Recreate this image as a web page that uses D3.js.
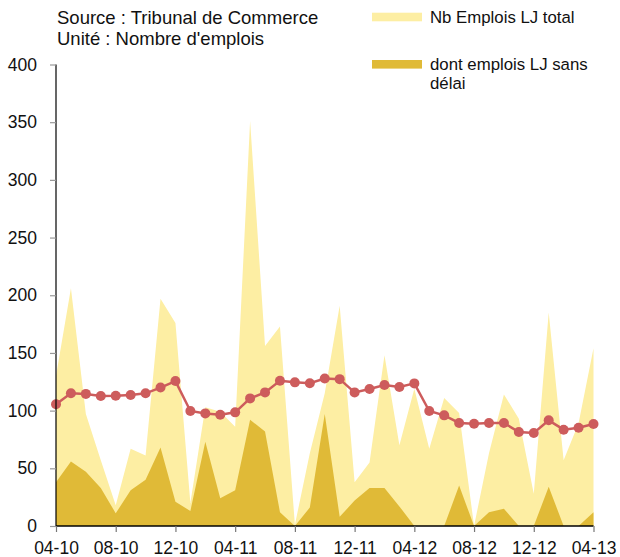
<!DOCTYPE html>
<html>
<head>
<meta charset="utf-8">
<script src="https://cdn.jsdelivr.net/npm/d3@7"></script>
<style>
  html, body { margin: 0; padding: 0; background: #fff; }
  svg { display: block; font-family: "Liberation Sans", Arial, sans-serif; }
</style>
</head>
<body>
<svg id="chart" width="620" height="557"></svg>
<script>
// ---- data ----
const months = ["04-10","05-10","06-10","07-10","08-10","09-10","10-10","11-10","12-10",
  "01-11","02-11","03-11","04-11","05-11","06-11","07-11","08-11","09-11","10-11","11-11","12-11",
  "01-12","02-12","03-12","04-12","05-12","06-12","07-12","08-12","09-12","10-12","11-12","12-12",
  "01-13","02-13","03-13","04-13"];
const totalJobs = [130,206,97,57,18,67,61,197,176,20,103,99,86,351,156,173,1,63,115,191,38,55,148,70,119,67,111,98,0,63,114,93,28,185,57,89,154];
const noDelayJobs = [38,56,47,33,11,31,40,68,21,13,73,24,31,92,82,12,0,16,97,8,22,33,33,17,0,0,0,35,0,12,15,0,0,34,0,0,12];
const avgJobs = [105.5,115,114.5,112.6,112.9,113.5,115,120,125.6,99.7,97.6,96.5,98.5,110.6,115.8,125.9,124.5,123.7,127.8,127.3,115.8,118.7,122.2,120.5,123.6,99.7,95.9,89.3,88.7,89.3,89.3,81.5,80.6,91.6,83.5,85.2,88.4];
const xTickLabels = ["04-10","08-10","12-10","04-11","08-11","12-11","04-12","08-12","12-12","04-13"];
const yTicks = [0,50,100,150,200,250,300,350,400];
const titleLines = ["Source : Tribunal de Commerce", "Unité : Nombre d'emplois"];
const legendItems = [
  {label: ["Nb Emplois LJ total"], color: "#FDEEA3"},
  {label: ["dont emplois LJ sans", "délai"], color: "#E0BA37"}
];

// ---- chart ----
const svg = d3.select("#chart");
const x = d3.scaleLinear().domain([0, months.length - 1]).range([56, 593.5]);
const y = d3.scaleLinear().domain([0, 400]).range([526, 64.5]);

const idx = months.map((m, i) => i);

const areaTotal = d3.area().x(i => x(i)).y0(y(0)).y1(i => y(totalJobs[i]));
const areaDark = d3.area().x(i => x(i)).y0(y(0)).y1(i => y(noDelayJobs[i]));

svg.append("path").attr("d", areaTotal(idx)).attr("fill", legendItems[0].color);
svg.append("path").attr("d", areaDark(idx)).attr("fill", legendItems[1].color);

const line = d3.line().x(i => x(i)).y(i => y(avgJobs[i]));
svg.append("path").attr("d", line(idx)).attr("fill", "none")
  .attr("stroke", "#CD5C5C").attr("stroke-width", 2.5);
svg.append("g").selectAll("circle").data(idx).join("circle")
  .attr("cx", i => x(i)).attr("cy", i => y(avgJobs[i])).attr("r", 5)
  .attr("fill", "#CD5C5C");

// y axis
const yAxis = d3.axisLeft(y).tickValues(yTicks).tickSize(6).tickPadding(13)
  .tickFormat(d3.format("d"));
const gy = svg.append("g").attr("transform", "translate(56,0)").call(yAxis);
gy.select(".domain").attr("stroke", "#000").attr("stroke-width", 1.2)
  .attr("d", `M0,${y(400)}V${y(0)}`);
gy.selectAll(".tick line").attr("stroke", "#999").attr("stroke-width", 1.2);
gy.selectAll(".tick text").attr("font-size", 17.5).attr("fill", "#111")
  .attr("font-family", "Liberation Sans, Arial, sans-serif");

// x axis
const xTickIdx = xTickLabels.map(l => months.indexOf(l));
const xAxis = d3.axisBottom(x).tickValues(xTickIdx).tickSize(6).tickPadding(10)
  .tickFormat(i => months[i]);
const gx = svg.append("g").attr("transform", `translate(0,${y(0)})`).call(xAxis);
gx.select(".domain").attr("stroke", "#000").attr("stroke-width", 1.5)
  .attr("d", `M${x(0)},0H${x(months.length - 1)}`);
gx.selectAll(".tick line").attr("stroke", "#777").attr("stroke-width", 1.2);
gx.selectAll(".tick text").attr("font-size", 17.5).attr("fill", "#111")
  .attr("font-family", "Liberation Sans, Arial, sans-serif");

// title
svg.append("g").selectAll("text").data(titleLines).join("text")
  .attr("x", 57).attr("y", (d, i) => 23.5 + i * 21.5)
  .attr("font-size", 18.5).attr("fill", "#111").text(d => d);

// legend
const lg = svg.append("g");
legendItems.forEach((it, k) => {
  const top = 12.7 + k * 47.3;
  lg.append("rect").attr("x", 372).attr("y", top).attr("width", 50).attr("height", 8.6)
    .attr("fill", it.color);
  it.label.forEach((t, j) => {
    lg.append("text").attr("x", 430).attr("y", top + 10.3 + j * 18.5)
      .attr("font-size", 16.8).attr("fill", "#111").text(t);
  });
});
</script>
</body>
</html>
